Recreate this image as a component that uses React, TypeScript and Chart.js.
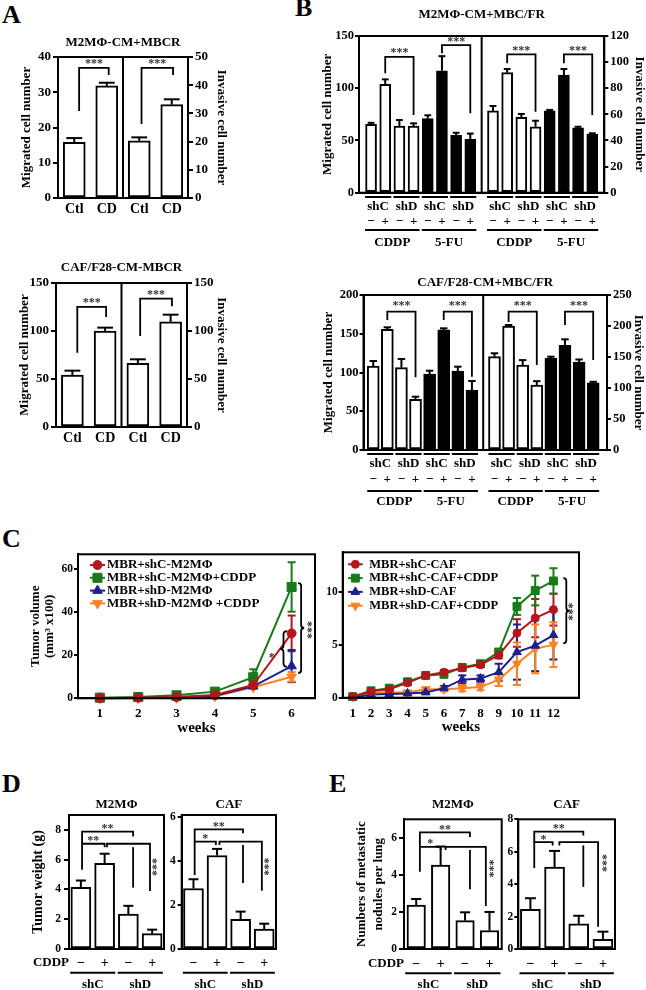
import React, { useEffect, useRef } from 'react';
import { Chart, registerables } from 'chart.js';

Chart.register(...registerables);

const SERIF = '"Liberation Serif", "Times New Roman", Times, serif';
Chart.defaults.font.family = SERIF;
(Chart.defaults.font as any).weight = 'bold';
Chart.defaults.color = '#000';

/* ===================== DATA ===================== */
// Panel A
const A_LABELS = ['Ctl', 'CD', 'Ctl', 'CD'];
const A_Y_TITLE = 'Migrated cell number';
const A_Y1_TITLE = 'Invasive cell number';

const A1_TITLE = 'M2MΦ-CM+MBCR';
const A1_MIGRATED = [15.8, 31.8];
const A1_MIGRATED_ERR = [1.2, 0.9];
const A1_INVASIVE = [20.3, 33.1];
const A1_INVASIVE_ERR = [1.2, 1.9];
const A1_Y_TICKS = [0, 10, 20, 30, 40];
const A1_Y1_TICKS = [0, 10, 20, 30, 40, 50];
const A1_SIG = [
  { a: 0.15, b: 1.06, top: 36.9, aBot: 24.7, bBot: 34.9, text: '***' },
  { a: 2.07, b: 3.04, top: 36.9, aBot: 21.0, bBot: 34.9, text: '***' },
];

const A2_TITLE = 'CAF/F28-CM-MBCR';
const A2_MIGRATED = [54.0, 100.0];
const A2_MIGRATED_ERR = [4.7, 3.5];
const A2_INVASIVE = [66.4, 109.5];
const A2_INVASIVE_ERR = [4.1, 7.5];
const A2_Y_TICKS = [0, 50, 100, 150];
const A2_Y1_TICKS = [0, 50, 100, 150];
const A2_SIG = [
  { a: 0.15, b: 1.03, top: 125.1, aBot: 77.4, bBot: 114.7, text: '***' },
  { a: 2.07, b: 3.04, top: 133.8, aBot: 94.7, bBot: 125.8, text: '***' },
];

// Panel B
const B_GROUPS = ['shC', 'shD', 'shC', 'shD'];
const B_DOSES = ['−', '+', '−', '+', '−', '+', '−', '+'];
const B_DRUGS = ['CDDP', '5-FU'];

const B1_TITLE = 'M2MΦ-CM+MBC/FR';
const B1_MIGRATED = [65.4, 103.7, 63.8, 63.8, 70.9, 116.7, 55.0, 51.2];
const B1_MIGRATED_ERR = [1.5, 4.8, 5.8, 2.6, 3.2, 14.0, 2.4, 5.4];
const B1_INVASIVE = [62.6, 91.9, 57.7, 50.5, 62.6, 90.1, 49.7, 44.9];
const B1_INVASIVE_ERR = [3.8, 2.8, 2.6, 4.6, 0.8, 4.6, 0.8, 0.6];
const B1_Y_TICKS = [0, 50, 100, 150];
const B1_Y1_TICKS = [0, 20, 40, 60, 80, 100, 120];
const B1_SIG = [
  { a: 1, b: 3, top: 130.1, aBot: 114.3, bBot: 74.4, text: '***' },
  { a: 5, b: 7, top: 141.3, aBot: 133.4, bBot: 76.0, text: '***' },
  { a: 9, b: 11, top: 132.4, aBot: 123.8, bBot: 77.5, text: '***' },
  { a: 13, b: 15, top: 132.4, aBot: 123.8, bBot: 74.4, text: '***' },
];

const B2_TITLE = 'CAF/F28-CM+MBC/FR';
const B2_MIGRATED = [108.4, 155.7, 106.2, 65.4, 98.0, 155.0, 101.9, 77.4];
const B2_MIGRATED_ERR = [6.4, 2.6, 11.2, 3.4, 4.3, 2.0, 5.6, 11.6];
const B2_INVASIVE = [150.5, 200.0, 137.0, 104.8, 148.0, 169.0, 142.0, 108.5];
const B2_INVASIVE_ERR = [5.5, 1.6, 8.0, 6.2, 2.5, 9.5, 4.0, 1.5];
const B2_Y_TICKS = [0, 50, 100, 150, 200];
const B2_Y1_TICKS = [0, 50, 100, 150, 200, 250];
const B2_SIG = [
  { a: 1, b: 3, top: 178.5, aBot: 167.7, bBot: 93.8, text: '***' },
  { a: 5, b: 7, top: 178.5, aBot: 167.7, bBot: 94.6, text: '***' },
  { a: 9, b: 11, top: 178.5, aBot: 165.2, bBot: 109.7, text: '***' },
  { a: 13, b: 15, top: 178.5, aBot: 161.3, bBot: 116.0, text: '***' },
];

// Panel C
const C_X_TITLE = 'weeks';
const C_Y_TITLE = ['Tumor volume', '(mm³ x100)'];
const C_COLORS = ['#b3161d', '#187a18', '#1c1e8c', '#ff8124'];
const C_STYLES = ['circle', 'rect', 'triangle', 'triangle'];
const C_ROT = [0, 0, 0, 180];

const C1_LABELS = ['MBR+shC-M2MΦ', 'MBR+shC-M2MΦ+CDDP', 'MBR+shD-M2MΦ', 'MBR+shD-M2MΦ +CDDP'];
const C1_WEEKS = [1, 2, 3, 4, 5, 6];
const C1_SHC = [0.1, 0.3, 0.6, 1.5, 6.2, 30.2];
const C1_SHC_ERR = [0.1, 0.1, 0.2, 0.4, 1.0, 8.3];
const C1_SHC_CDDP = [0.3, 0.6, 1.4, 3.1, 9.8, 51.8];
const C1_SHC_CDDP_ERR = [0.1, 0.2, 0.4, 0.6, 3.7, 11.5];
const C1_SHD = [0.0, 0.1, 0.4, 1.2, 5.6, 15.0];
const C1_SHD_ERR = [0.1, 0.1, 0.1, 0.3, 0.8, 7.5];
const C1_SHD_CDDP = [0.0, 0.1, 0.2, 0.9, 5.1, 10.0];
const C1_SHD_CDDP_ERR = [0.1, 0.1, 0.1, 0.2, 0.6, 2.2];
const C1_Y_TICKS = [0, 20, 40, 60];

const C2_LABELS = ['MBR+shC-CAF', 'MBR+shC-CAF+CDDP', 'MBR+shD-CAF', 'MBR+shD-CAF+CDDP'];
const C2_WEEKS = [1, 2, 3, 4, 5, 6, 7, 8, 9, 10, 11, 12];
const C2_SHC = [0.1, 0.6, 0.8, 1.4, 2.1, 2.4, 2.8, 3.1, 4.0, 6.1, 7.5, 8.3];
const C2_SHC_ERR = [0.1, 0.1, 0.1, 0.2, 0.2, 0.2, 0.2, 0.2, 0.3, 1.3, 1.8, 1.5];
const C2_SHC_CDDP = [0.1, 0.65, 0.9, 1.5, 2.1, 2.2, 2.85, 3.2, 4.3, 8.6, 10.1, 11.0];
const C2_SHC_CDDP_ERR = [0.1, 0.1, 0.1, 0.2, 0.2, 0.2, 0.2, 0.2, 0.3, 0.8, 1.4, 1.2];
const C2_SHD = [0.0, 0.3, 0.35, 0.4, 0.5, 0.9, 1.7, 1.8, 2.4, 4.3, 4.9, 5.9];
const C2_SHD_ERR = [0.1, 0.1, 0.1, 0.1, 0.1, 0.2, 0.4, 0.3, 0.8, 2.6, 2.4, 2.3];
const C2_SHD_CDDP = [0.1, 0.5, 0.5, 0.5, 0.8, 0.8, 0.9, 1.0, 1.7, 3.2, 4.6, 5.0];
const C2_SHD_CDDP_ERR = [0.1, 0.1, 0.1, 0.1, 0.1, 0.2, 0.3, 0.3, 0.6, 2.0, 2.3, 2.1];
const C2_Y_TICKS = [0, 5, 10];

// Panels D & E
const D_DOSES = ['−', '+', '−', '+'];
const D_GROUPS = ['shC', 'shD'];
const D_PREFIX = 'CDDP';

const D1_TITLE = 'M2MΦ';
const D_Y_TITLE = 'Tumor weight (g)';
const D1_WEIGHT = [4.15, 5.75, 2.35, 1.03];
const D1_WEIGHT_ERR = [0.45, 0.65, 0.55, 0.27];
const D1_Y_TICKS = [0, 2, 4, 6, 8];
const D1_SIG = [
  { a: 0.05, b: 1.0, top: 7.07, aBot: 5.33, bBot: 6.84, text: '**' },
  { a: 0.05, b: 2.2, top: 7.89, aBot: 7.07, bBot: 7.55, text: '**' },
  { a: 1.1, b: 2.91, top: 7.07, aBot: 6.84, bBot: 3.9 },
];
const D1_VLINES = [{ x: 2.2, y1: 6.84, y2: 4.12 }];
const D1_TEXTS = [{ x: 3.12, y: 5.5, text: '***', rot: true }];

const D2_TITLE = 'CAF';
const D2_WEIGHT = [2.75, 4.25, 1.35, 0.9];
const D2_WEIGHT_ERR = [0.42, 0.3, 0.35, 0.25];
const D2_Y_TICKS = [0, 2, 4, 6];
const D2_SIG = [
  { a: 0.05, b: 0.95, top: 4.88, aBot: 3.36, bBot: 4.73, text: '*' },
  { a: 0.05, b: 2.1, top: 5.44, aBot: 4.88, bBot: 5.26, text: '**' },
  { a: 1.1, b: 2.9, top: 4.88, aBot: 4.73, bBot: 2.65 },
];
const D2_VLINES = [{ x: 2.1, y1: 4.73, y2: 3.0 }];
const D2_TEXTS = [{ x: 3.08, y: 3.74, text: '***', rot: true }];

const E_Y_TITLE = ['Numbers of metastatic', 'nodules per lung'];
const E1_TITLE = 'M2MΦ';
const E1_NODULES = [2.37, 4.53, 1.53, 1.0];
const E1_NODULES_ERR = [0.33, 1.0, 0.45, 1.0];
const E1_Y_TICKS = [0, 2, 4, 6];
const E1_SIG = [
  { a: 0.15, b: 1.0, top: 5.51, aBot: 4.17, bBot: 5.34, text: '*' },
  { a: 0.15, b: 2.2, top: 6.29, aBot: 5.51, bBot: 6.05, text: '**' },
  { a: 1.2, b: 2.85, top: 5.51, aBot: 5.34, bBot: 2.32 },
];
const E1_VLINES = [{ x: 2.2, y1: 5.34, y2: 3.22 }];
const E1_TEXTS = [{ x: 3.1, y: 4.35, text: '***', rot: true }];

const E2_TITLE = 'CAF';
const E2_NODULES = [2.45, 5.05, 1.55, 0.6];
const E2_NODULES_ERR = [0.68, 1.0, 0.5, 0.47];
const E2_Y_TICKS = [0, 2, 4, 6, 8];
const E2_SIG = [
  { a: 0.16, b: 0.92, top: 6.59, aBot: 5.0, bBot: 6.39, text: '*' },
  { a: 0.16, b: 2.19, top: 7.24, aBot: 6.59, bBot: 7.0, text: '**' },
  { a: 1.2, b: 2.8, top: 6.59, aBot: 6.39, bBot: 1.38 },
];
const E2_VLINES = [{ x: 2.19, y1: 6.39, y2: 3.83 }];
const E2_TEXTS = [{ x: 3.08, y: 5.31, text: '***', rot: true }];

const PANEL_LETTERS = ['A', 'B', 'C', 'D', 'E'];

/* ===================== LAYOUT ===================== */
const LETTER_XY = [[2, 2], [295, -5], [2, 526], [2, 771], [329, 771]];

/* ===================== HELPERS ===================== */
type Box = { x: number; y: number; w: number; h: number };
type Plot = { l: number; t: number; r: number; b: number };

const BORDER = { display: true, color: '#000', width: 2 };
const NO_GRID = { display: false, drawTicks: false };

const frameOf = (box: Box, plot: Plot) => ({
  left: plot.l - box.x,
  right: box.x + box.w - plot.r,
  top: plot.t - box.y,
  bottom: box.y + box.h - plot.b,
});

const fit = (size: number) => (s: any) => {
  if (s.isHorizontal()) s.height = size;
  else s.width = size;
  s.paddingLeft = 0;
  s.paddingRight = 0;
  s.paddingTop = 0;
  s.paddingBottom = 0;
};
const setTicks = (vals: number[]) => (s: any) => {
  s.ticks = vals.map((v) => ({ value: v }));
};

function baseOpts(f: any, rightAxis: boolean) {
  return {
    responsive: false,
    animation: false,
    devicePixelRatio: 1,
    events: [],
    layout: { autoPadding: false, padding: { top: f.top, left: 0, bottom: 0, right: rightAxis ? 0 : f.right } },
    plugins: { legend: { display: false }, tooltip: { enabled: false }, title: { display: false } },
  };
}

function yScale(pos: string, width: number, max: number, ticks: number[], size: number, tickLen: number, pad: number, title?: any) {
  return {
    type: 'linear',
    position: pos,
    min: 0,
    max,
    afterBuildTicks: setTicks(ticks),
    afterFit: fit(width),
    grid: { display: true, drawOnChartArea: false, drawTicks: true, tickLength: tickLen, color: '#000', lineWidth: 2 },
    border: BORDER,
    ticks: { font: { size, weight: 'bold' }, padding: pad, color: '#000' },
    title: title
      ? {
          display: true,
          text: title.text,
          color: '#000',
          font: { size: title.size, weight: 'bold', lineHeight: title.lh ?? 1.2 },
          padding: { top: title.pad, bottom: 0 },
        }
      : { display: false },
  };
}

function seg(ctx: CanvasRenderingContext2D, pts: number[][]) {
  ctx.beginPath();
  ctx.moveTo(pts[0][0], pts[0][1]);
  for (let i = 1; i < pts.length; i++) ctx.lineTo(pts[i][0], pts[i][1]);
  ctx.stroke();
}

function txt(ctx: CanvasRenderingContext2D, s: string, x: number, y: number, size: number, align: CanvasTextAlign = 'center') {
  ctx.save();
  ctx.font = `bold ${size}px ${SERIF}`;
  ctx.fillStyle = '#000';
  ctx.textAlign = align;
  ctx.textBaseline = 'middle';
  ctx.fillText(s, x, y);
  ctx.restore();
}

function stars(ctx: CanvasRenderingContext2D, s: string, cx: number, cy: number, size: number, rot = false) {
  ctx.save();
  ctx.font = `bold ${size}px ${SERIF}`;
  ctx.fillStyle = '#333';
  ctx.textAlign = 'center';
  ctx.textBaseline = 'alphabetic';
  const k = 0.46 * size;
  if (rot) {
    ctx.translate(cx - k, cy);
    ctx.rotate(Math.PI / 2);
  } else ctx.translate(cx, cy + k);
  ctx.fillText(s, 0, 0);
  ctx.restore();
}

function brace(ctx: CanvasRenderingContext2D, x: number, ya: number, yb: number, w: number, dir: number) {
  const top = Math.min(ya, yb);
  const bot = Math.max(ya, yb);
  const ym = (top + bot) / 2;
  const xm = x + (dir * w) / 2;
  const xt = x + dir * w;
  const r = Math.min(w / 2, (bot - top) / 4);
  ctx.beginPath();
  ctx.moveTo(x, top);
  ctx.quadraticCurveTo(xm, top, xm, top + r);
  ctx.lineTo(xm, ym - r);
  ctx.quadraticCurveTo(xm, ym, xt, ym);
  ctx.quadraticCurveTo(xm, ym, xm, ym + r);
  ctx.lineTo(xm, bot - r);
  ctx.quadraticCurveTo(xm, bot, x, bot);
  ctx.stroke();
}

function marker(ctx: CanvasRenderingContext2D, style: string, x: number, y: number, r: number, rotDeg: number, color: string) {
  ctx.save();
  ctx.fillStyle = color;
  ctx.strokeStyle = color;
  ctx.lineWidth = 1;
  ctx.beginPath();
  if (style === 'circle') ctx.arc(x, y, r, 0, Math.PI * 2);
  else if (style === 'rect') {
    const s = r * Math.SQRT1_2;
    ctx.rect(x - s, y - s, 2 * s, 2 * s);
  } else {
    let a = ((rotDeg || 0) * Math.PI) / 180;
    ctx.moveTo(x + Math.sin(a) * r, y - Math.cos(a) * r);
    a += (2 * Math.PI) / 3;
    ctx.lineTo(x + Math.sin(a) * r, y - Math.cos(a) * r);
    a += (2 * Math.PI) / 3;
    ctx.lineTo(x + Math.sin(a) * r, y - Math.cos(a) * r);
    ctx.closePath();
  }
  ctx.fill();
  ctx.stroke();
  ctx.restore();
}

function annot(spec: any) {
  return {
    id: 'annot',
    beforeDatasetsDraw(chart: any) {
      const ctx = chart.ctx;
      (spec.lineErr || []).forEach((e: any) => {
        const meta = chart.getDatasetMeta(e.ds);
        const ys = chart.scales[meta.yAxisID];
        const ds = chart.data.datasets[e.ds];
        ctx.save();
        ctx.strokeStyle = ds.borderColor;
        ctx.lineWidth = 2;
        meta.data.forEach((pt: any, i: number) => {
          const v = ds.data[i].y;
          const d = e.err[i];
          const y1 = ys.getPixelForValue(v + d);
          const y2 = ys.getPixelForValue(v - d);
          seg(ctx, [[pt.x, y1], [pt.x, y2]]);
          seg(ctx, [[pt.x - e.cap, y1], [pt.x + e.cap, y1]]);
          seg(ctx, [[pt.x - e.cap, y2], [pt.x + e.cap, y2]]);
        });
        ctx.restore();
      });
    },
    afterDatasetsDraw(chart: any) {
      const ctx: CanvasRenderingContext2D = chart.ctx;
      const ca = chart.chartArea;
      const xs = chart.scales.x;
      const ys = chart.scales.y;
      const X = (v: number) => xs.getPixelForValue(spec.xMap ? spec.xMap(v) : v);
      const Y = (v: number) => ys.getPixelForValue(v);
      const starSize = spec.starSize ?? 12;
      const starGap = spec.starGap ?? 6;
      ctx.save();
      ctx.strokeStyle = '#000';
      ctx.fillStyle = '#000';
      ctx.lineCap = 'butt';

      (spec.barErr || []).forEach((e: any) => {
        const meta = chart.getDatasetMeta(e.ds);
        const yS = chart.scales[meta.yAxisID];
        const ds = chart.data.datasets[e.ds];
        meta.data.forEach((el: any, i: number) => {
          const d = e.err[i];
          const raw = ds.data[i];
          const v = raw == null ? null : typeof raw === 'object' ? raw.y : raw;
          if (d == null || v == null) return;
          const yt = yS.getPixelForValue(v + d);
          const half = (el.width * e.cap) / 2;
          ctx.lineWidth = 2;
          seg(ctx, [[el.x, el.y], [el.x, yt]]);
          seg(ctx, [[el.x - half, yt], [el.x + half, yt]]);
        });
      });

      ctx.lineWidth = 2;
      ctx.strokeRect(ca.left, ca.top, ca.right - ca.left, ca.bottom - ca.top);
      if (spec.divider != null) {
        const xd = xs.getPixelForValue(spec.divider);
        seg(ctx, [[xd, ca.top], [xd, ca.bottom]]);
      }

      if (spec.title) txt(ctx, spec.title, (ca.left + ca.right) / 2, ca.top - spec.titleDy, spec.titleSize ?? 13);

      ctx.lineWidth = 1.8;
      (spec.brackets || []).forEach((b: any) => {
        const xa = X(b.a);
        const xb = X(b.b);
        const yt = Y(b.top);
        seg(ctx, [[xa, Y(b.aBot)], [xa, yt], [xb, yt], [xb, Y(b.bBot)]]);
        if (b.text) stars(ctx, b.text, (xa + xb) / 2, yt - starGap, starSize);
      });
      (spec.vlines || []).forEach((l: any) => seg(ctx, [[X(l.x), Y(l.y1)], [X(l.x), Y(l.y2)]]));
      (spec.braces || []).forEach((b: any) => brace(ctx, X(b.x), Y(b.y1), Y(b.y2), b.w, b.dir));
      (spec.texts || []).forEach((t: any) => stars(ctx, t.text, X(t.x), Y(t.y), starSize, !!t.rot));

      if (spec.rowsB) {
        const R = spec.rowsB;
        const b = ca.bottom;
        const n = R.n;
        ctx.lineWidth = 2;
        for (let p = 0; p < n / 2; p++) {
          const xa = X(2 * p);
          const xb = X(2 * p + 1);
          seg(ctx, [[xa - R.half, b + R.off[0]], [xb + R.half, b + R.off[0]]]);
          txt(ctx, R.groups[p % R.groups.length], (xa + xb) / 2, b + R.off[1], R.size);
        }
        for (let i = 0; i < n; i++) txt(ctx, R.doses[i % R.doses.length], X(i), b + R.off[2], R.size);
        for (let q = 0; q < n / 4; q++) {
          const xa = X(4 * q);
          const xb = X(4 * q + 3);
          seg(ctx, [[xa - R.half, b + R.off[3]], [xb + R.half, b + R.off[3]]]);
          txt(ctx, R.drugs[q % R.drugs.length], (xa + xb) / 2, b + R.off[4], R.size);
        }
      }

      if (spec.rowsD) {
        const R = spec.rowsD;
        const b = ca.bottom;
        if (R.prefix) txt(ctx, R.prefix, ca.left + R.prefixDx, b + R.prefixY, R.size, 'right');
        ctx.lineWidth = 2;
        R.groups.forEach((g: string, k: number) => {
          const xa = X(2 * k - R.halfCat);
          const xb = X(2 * k + 1 + R.halfCat);
          seg(ctx, [[xa, b + R.under], [xb, b + R.under]]);
          txt(ctx, g, (xa + xb) / 2, b + R.label, R.size);
        });
      }

      if (spec.legend) {
        const L = spec.legend;
        chart.data.datasets.forEach((ds: any, i: number) => {
          const y = ca.top + L.y0 + i * L.dy;
          const x1 = ca.left + L.x0;
          const x2 = x1 + L.len;
          ctx.strokeStyle = ds.borderColor;
          ctx.lineWidth = 2;
          seg(ctx, [[x1, y], [x2, y]]);
          marker(ctx, ds.pointStyle, (x1 + x2) / 2, y, ds.pointRadius, ds.pointRotation, ds.borderColor);
          txt(ctx, ds.label, x2 + L.gap, y, L.size, 'left');
        });
      }
      ctx.restore();
    },
  };
}

/* ===================== CHART BUILDERS ===================== */
const barStyle = (fill: any, thickness: number) => ({
  backgroundColor: fill,
  borderColor: '#000',
  borderWidth: 2,
  borderSkipped: false,
  barThickness: thickness,
});

function makeA(c: any) {
  const f = frameOf(c.box, c.plot);
  return {
    type: 'bar',
    data: {
      labels: A_LABELS,
      datasets: [
        { label: A_Y_TITLE, data: [...c.mig, null, null], yAxisID: 'y', ...barStyle('#fff', 22), grouped: false },
        { label: A_Y1_TITLE, data: [null, null, ...c.inv], yAxisID: 'y1', ...barStyle('#fff', 22), grouped: false },
      ],
    },
    options: {
      ...baseOpts(f, true),
      scales: {
        x: {
          type: 'category',
          offset: true,
          afterFit: fit(f.bottom),
          grid: NO_GRID,
          border: BORDER,
          ticks: { font: { size: 14, weight: 'bold' }, padding: c.xPad, maxRotation: 0, autoSkip: false, color: '#000' },
        },
        y: yScale('left', f.left, c.yMax, c.yTicks, 13, 5, 2, { text: A_Y_TITLE, size: 13, pad: c.lPad }),
        y1: yScale('right', f.right, c.y1Max, c.y1Ticks, 13, 5, 2, { text: A_Y1_TITLE, size: 13, pad: c.rPad }),
      },
    },
    plugins: [
      annot({
        title: c.title,
        titleDy: c.titleDy,
        divider: 1.5,
        barErr: [
          { ds: 0, err: [...c.migErr, null, null], cap: 0.72 },
          { ds: 1, err: [null, null, ...c.invErr], cap: 0.72 },
        ],
        brackets: c.sig,
        starGap: 6,
      }),
    ],
  };
}

const bPos = (i: number) => i + 1 + (i >= B_DOSES.length ? 0.6 : 0);

function makeB(c: any) {
  const f = frameOf(c.box, c.plot);
  const n = c.mig.length;
  const fills = c.mig.map((_: number, i: number) => (Math.floor(i / (n / B_DRUGS.length)) === 0 ? '#fff' : '#000'));
  return {
    type: 'bar',
    data: {
      datasets: [
        { label: A_Y_TITLE, data: c.mig.map((v: number, i: number) => ({ x: bPos(i), y: v })), yAxisID: 'y', ...barStyle(fills, c.bw), grouped: false },
        { label: A_Y1_TITLE, data: c.inv.map((v: number, i: number) => ({ x: bPos(i + n), y: v })), yAxisID: 'y1', ...barStyle(fills, c.bw), grouped: false },
      ],
    },
    options: {
      ...baseOpts(f, true),
      scales: {
        x: { type: 'linear', offset: false, min: c.xMin, max: c.xMax, afterFit: fit(f.bottom), grid: NO_GRID, border: BORDER, ticks: { display: false } },
        y: yScale('left', f.left, c.yMax, c.yTicks, 12.5, 4, 1, { text: A_Y_TITLE, size: 13, pad: c.lPad }),
        y1: yScale('right', f.right, c.y1Max, c.y1Ticks, 12.5, 4, 2, { text: A_Y1_TITLE, size: 13, pad: c.rPad, lh: 1 }),
      },
    },
    plugins: [
      annot({
        title: c.title,
        titleDy: c.titleDy,
        divider: 8.8,
        xMap: bPos,
        barErr: [
          { ds: 0, err: c.migErr, cap: 0.62 },
          { ds: 1, err: c.invErr, cap: 0.62 },
        ],
        brackets: c.sig,
        starGap: c.starGap,
        rowsB: { n: n * 2, groups: B_GROUPS, doses: B_DOSES, drugs: B_DRUGS, off: c.rows, half: 6, size: 13 },
      }),
    ],
  };
}

function makeC(c: any) {
  const f = frameOf(c.box, c.plot);
  return {
    type: 'line',
    data: {
      datasets: c.series.map((s: number[], i: number) => ({
        label: c.labels[i],
        data: c.weeks.map((w: number, j: number) => ({ x: w, y: s[j] })),
        borderColor: C_COLORS[i],
        backgroundColor: C_COLORS[i],
        pointBackgroundColor: C_COLORS[i],
        pointBorderColor: C_COLORS[i],
        borderWidth: 2,
        pointStyle: C_STYLES[i],
        pointRotation: C_ROT[i],
        pointRadius: c.radii[i],
        pointBorderWidth: 1,
        clip: false,
        tension: 0,
        fill: false,
      })),
    },
    options: {
      ...baseOpts(f, false),
      scales: {
        x: {
          type: 'linear',
          min: c.xMin,
          max: c.xMax,
          afterBuildTicks: setTicks(c.weeks),
          afterFit: fit(f.bottom),
          grid: NO_GRID,
          border: BORDER,
          ticks: { font: { size: 13, weight: 'bold' }, padding: c.xPad, maxRotation: 0, autoSkip: false, color: '#000' },
          title: { display: true, text: C_X_TITLE, color: '#000', font: { size: 15, weight: 'bold', lineHeight: 1.2 }, padding: { top: 0, bottom: c.xTitlePad } },
        },
        y: yScale('left', f.left, c.yMax, c.yTicks, 11.5, 4, 1, c.yTitle),
      },
    },
    plugins: [
      annot({
        lineErr: c.errs.map((e: number[], i: number) => ({ ds: i, err: e, cap: 4 })),
        legend: c.legend,
        braces: c.braces,
        texts: c.texts,
        starSize: 12,
      }),
    ],
  };
}

function makeDE(c: any) {
  const f = frameOf(c.box, c.plot);
  return {
    type: 'bar',
    data: {
      labels: D_DOSES,
      datasets: [{ label: c.title, data: c.values, ...barStyle('#fff', c.bw) }],
    },
    options: {
      ...baseOpts(f, false),
      scales: {
        x: {
          type: 'category',
          offset: true,
          afterFit: fit(f.bottom),
          grid: NO_GRID,
          border: BORDER,
          ticks: { font: { size: 14, weight: 'bold' }, padding: c.xPad, maxRotation: 0, autoSkip: false, color: '#000' },
        },
        y: yScale('left', f.left, c.yMax, c.yTicks, 11.5, c.tickLen, c.tickPad, c.yTitle),
      },
    },
    plugins: [
      annot({
        title: c.title,
        titleDy: c.titleDy,
        barErr: [{ ds: 0, err: c.err, cap: c.cap }],
        brackets: c.sig,
        vlines: c.vlines,
        texts: c.texts,
        starGap: 5,
        rowsD: { prefix: c.prefix, prefixDx: 0, prefixY: c.prefixY, groups: D_GROUPS, under: c.under, label: 36, halfCat: 0.45, size: 13 },
      }),
    ],
  };
}

/* ===================== CHART LIST ===================== */
const CHARTS: { box: Box; make: () => any }[] = [
  {
    box: { x: 0, y: 28, w: 232, h: 194 },
    make: () =>
      makeA({
        box: { x: 0, y: 28, w: 232, h: 194 },
        plot: { l: 58, t: 57, r: 188, b: 198 },
        title: A1_TITLE, titleDy: 14,
        mig: A1_MIGRATED, migErr: A1_MIGRATED_ERR, inv: A1_INVASIVE, invErr: A1_INVASIVE_ERR,
        yMax: 40, yTicks: A1_Y_TICKS, y1Max: 50, y1Ticks: A1_Y1_TICKS,
        sig: A1_SIG, xPad: 2.5, lPad: 19.2, rPad: 3.2,
      }),
  },
  {
    box: { x: 0, y: 250, w: 232, h: 200 },
    make: () =>
      makeA({
        box: { x: 0, y: 250, w: 232, h: 200 },
        plot: { l: 56, t: 283, r: 187, b: 427 },
        title: A2_TITLE, titleDy: 15,
        mig: A2_MIGRATED, migErr: A2_MIGRATED_ERR, inv: A2_INVASIVE, invErr: A2_INVASIVE_ERR,
        yMax: 150, yTicks: A2_Y_TICKS, y1Max: 150, y1Ticks: A2_Y1_TICKS,
        sig: A2_SIG, xPad: 3, lPad: 17.2, rPad: 3.2,
      }),
  },
  {
    box: { x: 300, y: 0, w: 346, h: 252 },
    make: () =>
      makeB({
        box: { x: 300, y: 0, w: 346, h: 252 },
        plot: { l: 359, t: 36, r: 604.3, b: 192.7 },
        title: B1_TITLE, titleDy: 21,
        mig: B1_MIGRATED, migErr: B1_MIGRATED_ERR, inv: B1_INVASIVE, invErr: B1_INVASIVE_ERR,
        yMax: 150, yTicks: B1_Y_TICKS, y1Max: 120, y1Ticks: B1_Y1_TICKS,
        xMin: 0.15, xMax: 17.45, bw: 11,
        sig: B1_SIG, starGap: 6, lPad: 20.2, rPad: 0,
        rows: [4.3, 14.3, 29.3, 37.3, 50.3],
      }),
  },
  {
    box: { x: 300, y: 270, w: 346, h: 240 },
    make: () =>
      makeB({
        box: { x: 300, y: 270, w: 346, h: 240 },
        plot: { l: 363.5, t: 295, r: 607, b: 450 },
        title: B2_TITLE, titleDy: 12,
        mig: B2_MIGRATED, migErr: B2_MIGRATED_ERR, inv: B2_INVASIVE, invErr: B2_INVASIVE_ERR,
        yMax: 200, yTicks: B2_Y_TICKS, y1Max: 250, y1Ticks: B2_Y1_TICKS,
        xMin: 0.31, xMax: 17.58, bw: 12,
        sig: B2_SIG, starGap: 8, lPad: 20.5, rPad: 1.5,
        rows: [4, 13.5, 30, 41, 51.5],
      }),
  },
  {
    box: { x: 0, y: 545, w: 330, h: 200 },
    make: () =>
      makeC({
        box: { x: 0, y: 545, w: 330, h: 200 },
        plot: { l: 78, t: 554.3, r: 315, b: 698.3 },
        labels: C1_LABELS, weeks: C1_WEEKS,
        series: [C1_SHC, C1_SHC_CDDP, C1_SHD, C1_SHD_CDDP],
        errs: [C1_SHC_ERR, C1_SHC_CDDP_ERR, C1_SHD_ERR, C1_SHD_CDDP_ERR],
        xMin: 0.43, xMax: 6.61, yMax: 67, yTicks: C1_Y_TICKS,
        yTitle: { text: C_Y_TITLE, size: 13, lh: 14 / 13, pad: 29 },
        xPad: 7.9, xTitlePad: 7.7,
        radii: [4.5, 6.4, 5.5, 5.5],
        legend: { x0: 12, len: 15, gap: 2, y0: 10.7, dy: 12.8, size: 13 },
        braces: [
          { x: 5.88, y1: 31.3, y2: 14.7, dir: -1, w: 7 },
          { x: 6.17, y1: 53.6, y2: 11.8, dir: 1, w: 6 },
        ],
        texts: [
          { x: 5.48, y: 20.1, text: '*' },
          { x: 6.48, y: 31.8, text: '***', rot: true },
        ],
      }),
  },
  {
    box: { x: 320, y: 545, w: 326, h: 200 },
    make: () =>
      makeC({
        box: { x: 320, y: 545, w: 326, h: 200 },
        plot: { l: 342.7, t: 552.3, r: 579, b: 697.7 },
        labels: C2_LABELS, weeks: C2_WEEKS,
        series: [C2_SHC, C2_SHC_CDDP, C2_SHD, C2_SHD_CDDP],
        errs: [C2_SHC_ERR, C2_SHC_CDDP_ERR, C2_SHD_ERR, C2_SHD_CDDP_ERR],
        xMin: 0.45, xMax: 13.4, yMax: 13.7, yTicks: C2_Y_TICKS,
        yTitle: null,
        xPad: 7.8, xTitlePad: 9.3,
        radii: [4, 5.6, 5, 5],
        legend: { x0: 5.3, len: 14.7, gap: 6.6, y0: 12, dy: 13.8, size: 12.5 },
        braces: [{ x: 12.54, y1: 11.27, y2: 5.12, dir: 1, w: 6 }],
        texts: [{ x: 12.95, y: 8.1, text: '***', rot: true }],
      }),
  },
  {
    box: { x: 0, y: 795, w: 170, h: 195 },
    make: () =>
      makeDE({
        box: { x: 0, y: 795, w: 170, h: 195 },
        plot: { l: 69, t: 815, r: 164, b: 949 },
        title: D1_TITLE, titleDy: 10,
        values: D1_WEIGHT, err: D1_WEIGHT_ERR, cap: 0.5, bw: 20,
        yMax: 9, yTicks: D1_Y_TICKS, tickLen: 5, tickPad: 3,
        yTitle: { text: D_Y_TITLE, size: 14, pad: 29.6 },
        sig: D1_SIG, vlines: D1_VLINES, texts: D1_TEXTS,
        xPad: 5.6, prefix: D_PREFIX, prefixY: 14, under: 23.7,
      }),
  },
  {
    box: { x: 160, y: 795, w: 125, h: 195 },
    make: () =>
      makeDE({
        box: { x: 160, y: 795, w: 125, h: 195 },
        plot: { l: 181.7, t: 815, r: 276, b: 949 },
        title: D2_TITLE, titleDy: 10,
        values: D2_WEIGHT, err: D2_WEIGHT_ERR, cap: 0.5, bw: 20,
        yMax: 6.09, yTicks: D2_Y_TICKS, tickLen: 4, tickPad: 2,
        yTitle: null,
        sig: D2_SIG, vlines: D2_VLINES, texts: D2_TEXTS,
        xPad: 5.6, prefix: null, prefixY: 14, under: 23.7,
      }),
  },
  {
    box: { x: 330, y: 795, w: 177, h: 195 },
    make: () =>
      makeDE({
        box: { x: 330, y: 795, w: 177, h: 195 },
        plot: { l: 404, t: 819.3, r: 501.7, b: 949 },
        title: E1_TITLE, titleDy: 14.3,
        values: E1_NODULES, err: E1_NODULES_ERR, cap: 0.55, bw: 18.5,
        yMax: 7, yTicks: E1_Y_TICKS, tickLen: 5, tickPad: 2,
        yTitle: { text: E_Y_TITLE, size: 13, lh: 16.6 / 13, pad: 23.4 },
        sig: E1_SIG, vlines: E1_VLINES, texts: E1_TEXTS,
        xPad: 6.6, prefix: D_PREFIX, prefixY: 15, under: 24.3,
      }),
  },
  {
    box: { x: 500, y: 795, w: 146, h: 195 },
    make: () =>
      makeDE({
        box: { x: 500, y: 795, w: 146, h: 195 },
        plot: { l: 518.3, t: 819.3, r: 615, b: 949 },
        title: E2_TITLE, titleDy: 14.3,
        values: E2_NODULES, err: E2_NODULES_ERR, cap: 0.55, bw: 20,
        yMax: 8, yTicks: E2_Y_TICKS, tickLen: 4, tickPad: 1,
        yTitle: null,
        sig: E2_SIG, vlines: E2_VLINES, texts: E2_TEXTS,
        xPad: 6.6, prefix: null, prefixY: 15, under: 24.3,
      }),
  },
];

/* ===================== COMPONENTS ===================== */
function ChartView({ box, make }: { box: Box; make: () => any }) {
  const ref = useRef<HTMLCanvasElement>(null);
  useEffect(() => {
    const chart = new Chart(ref.current as HTMLCanvasElement, make());
    return () => chart.destroy();
  }, []);
  return (
    <canvas
      ref={ref}
      width={box.w}
      height={box.h}
      style={{ position: 'absolute', left: box.x, top: box.y, width: box.w, height: box.h }}
    />
  );
}

export default function App() {
  return (
    <div style={{ position: 'absolute', left: 0, top: 0, width: 646, height: 990, background: '#fff', overflow: 'hidden' }}>
      {PANEL_LETTERS.map((t, i) => (
        <div
          key={t}
          style={{ position: 'absolute', left: LETTER_XY[i][0], top: LETTER_XY[i][1], font: `bold 26px/26px ${SERIF}`, color: '#000' }}
        >
          {t}
        </div>
      ))}
      {CHARTS.map((c, i) => (
        <ChartView key={i} box={c.box} make={c.make} />
      ))}
    </div>
  );
}
